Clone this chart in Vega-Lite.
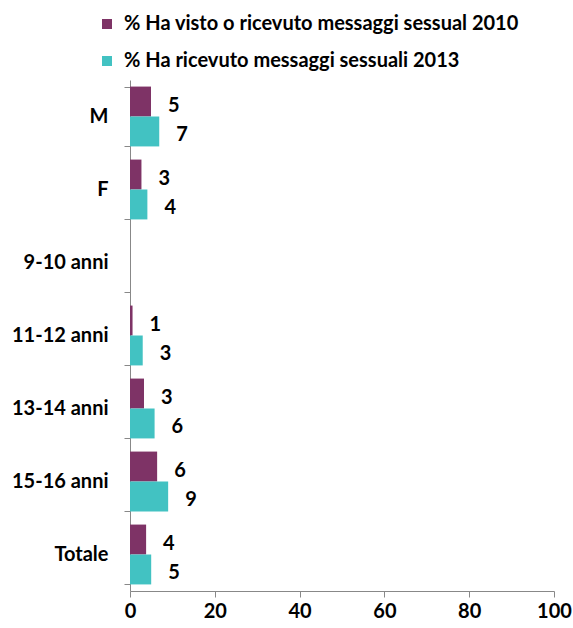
{
  "$schema": "https://vega.github.io/schema/vega-lite/v6.json",
  "width": 424,
  "height": 511,
  "autosize": {"type": "none"},
  "padding": {"left": 130, "top": 80, "right": 19, "bottom": 37},
  "background": "white",
  "config": {
    "view": {"stroke": null},
    "font": "Lato"
  },
  "data": {
    "values": [
      {"cat": "M", "serie": "% Ha visto o ricevuto messaggi sessual 2010", "val": 4.95},
      {"cat": "M", "serie": "% Ha ricevuto messaggi sessuali 2013", "val": 6.9},
      {"cat": "F", "serie": "% Ha visto o ricevuto messaggi sessual 2010", "val": 2.7},
      {"cat": "F", "serie": "% Ha ricevuto messaggi sessuali 2013", "val": 4.1},
      {"cat": "11-12 anni", "serie": "% Ha visto o ricevuto messaggi sessual 2010", "val": 0.6},
      {"cat": "11-12 anni", "serie": "% Ha ricevuto messaggi sessuali 2013", "val": 3.0},
      {"cat": "13-14 anni", "serie": "% Ha visto o ricevuto messaggi sessual 2010", "val": 3.3},
      {"cat": "13-14 anni", "serie": "% Ha ricevuto messaggi sessuali 2013", "val": 5.8},
      {"cat": "15-16 anni", "serie": "% Ha visto o ricevuto messaggi sessual 2010", "val": 6.4},
      {"cat": "15-16 anni", "serie": "% Ha ricevuto messaggi sessuali 2013", "val": 9.0},
      {"cat": "Totale", "serie": "% Ha visto o ricevuto messaggi sessual 2010", "val": 3.8},
      {"cat": "Totale", "serie": "% Ha ricevuto messaggi sessuali 2013", "val": 5.0}
    ]
  },
  "encoding": {
    "y": {
      "field": "cat",
      "type": "nominal",
      "scale": {
        "domain": ["M", "F", "9-10 anni", "11-12 anni", "13-14 anni", "15-16 anni", "Totale"],
        "paddingInner": 0.18,
        "paddingOuter": 0.09
      },
      "axis": {
        "title": null,
        "tickBand": "extent",
        "tickSize": 6,
        "tickColor": "#888888",
        "domainColor": "#888888",
        "labelFontSize": 20,
        "labelFontWeight": "bold",
        "labelColor": "#000000",
        "labelPadding": 16
      }
    },
    "yOffset": {
      "field": "serie",
      "type": "nominal",
      "sort": ["% Ha visto o ricevuto messaggi sessual 2010", "% Ha ricevuto messaggi sessuali 2013"]
    },
    "x": {
      "field": "val",
      "type": "quantitative",
      "scale": {"domain": [0, 100], "nice": false},
      "axis": {
        "title": null,
        "values": [0, 20, 40, 60, 80, 100],
        "grid": false,
        "tickSize": 6,
        "tickColor": "#888888",
        "domainColor": "#888888",
        "labelFontSize": 20,
        "labelFontWeight": "bold",
        "labelColor": "#000000",
        "labelPadding": 4,
        "labelFlush": false
      }
    }
  },
  "layer": [
    {
      "mark": {"type": "bar"},
      "encoding": {
        "color": {
          "field": "serie",
          "type": "nominal",
          "sort": ["% Ha visto o ricevuto messaggi sessual 2010", "% Ha ricevuto messaggi sessuali 2013"],
          "scale": {
            "domain": ["% Ha visto o ricevuto messaggi sessual 2010", "% Ha ricevuto messaggi sessuali 2013"],
            "range": ["#7E3366", "#42C2C2"]
          },
          "legend": {
            "title": null,
            "orient": "none",
            "legendX": -33,
            "legendY": -66,
            "direction": "vertical",
            "symbolType": "square",
            "symbolSize": 100,
            "symbolStrokeWidth": 0,
            "labelFontSize": 20,
            "labelFontWeight": "bold",
            "labelColor": "#000000",
            "labelLimit": 500,
            "labelOffset": 7,
            "rowPadding": 17
          }
        }
      }
    },
    {
      "mark": {"type": "text", "align": "left", "baseline": "middle", "dx": 17, "dy": 4, "fontSize": 20, "fontWeight": "bold", "color": "#000000"},
      "encoding": {
        "text": {"field": "val", "type": "quantitative", "format": ".0f"}
      }
    }
  ]
}
